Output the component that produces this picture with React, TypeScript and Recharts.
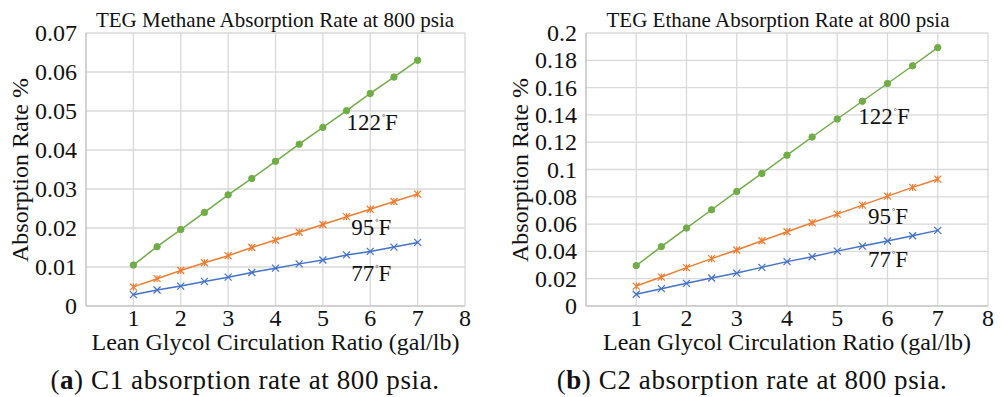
import React from 'react';
import { createPortal } from 'react-dom';
import {
  LineChart, Line, XAxis, YAxis, CartesianGrid, ReferenceDot,
} from 'recharts';

const RATIO = [1, 1.5, 2, 2.5, 3, 3.5, 4, 4.5, 5, 5.5, 6, 6.5, 7];

// C1 (methane)
const C1_122 = [0.0105, 0.0152, 0.0196, 0.0240, 0.0285, 0.0327, 0.0371, 0.0415, 0.0458, 0.0501, 0.0545, 0.0587, 0.0630];
const C1_95 = [0.0049, 0.0070, 0.0091, 0.0111, 0.0129, 0.0150, 0.0169, 0.0189, 0.0209, 0.0229, 0.0248, 0.0268, 0.0287];
const C1_77 = [0.0029, 0.0041, 0.0051, 0.0063, 0.0074, 0.0086, 0.0097, 0.0108, 0.0118, 0.0131, 0.0140, 0.0151, 0.0163];

// C2 (ethane)
const C2_122 = [0.0296, 0.0435, 0.0571, 0.0705, 0.0839, 0.0971, 0.1105, 0.1238, 0.1370, 0.1500, 0.1630, 0.1760, 0.1893];
const C2_95 = [0.0146, 0.0212, 0.0281, 0.0347, 0.0410, 0.0478, 0.0544, 0.0610, 0.0673, 0.0739, 0.0805, 0.0869, 0.0929];
const C2_77 = [0.0086, 0.0127, 0.0166, 0.0205, 0.0241, 0.0283, 0.0325, 0.0361, 0.0402, 0.0439, 0.0476, 0.0515, 0.0554];

const X_GRID = [0, 1, 2, 3, 4, 5, 6, 7, 8];
const X_TICKS = [1, 2, 3, 4, 5, 6, 7, 8];
const C1_TICKS = [0, 0.01, 0.02, 0.03, 0.04, 0.05, 0.06, 0.07];
const C2_TICKS = [0, 0.02, 0.04, 0.06, 0.08, 0.1, 0.12, 0.14, 0.16, 0.18, 0.2];

const GREEN = '#70AD47';
const ORANGE = '#ED7D31';
const BLUE = '#4472C4';
const FONT = '"Liberation Serif", "Times New Roman", serif';
const INK = '#111';

const buildRows = (a: number[], b: number[], c: number[]) =>
  RATIO.map((x, i) => ({ x, t122: a[i], t95: b[i], t77: c[i] }));

const c1Rows = buildRows(C1_122, C1_95, C1_77);
const c2Rows = buildRows(C2_122, C2_95, C2_77);

const fmt = (v: number) => String(Number(v.toFixed(3)));

// chart text goes out as plain fixed-width html boxes (same setup as the captions)
// at the coordinates recharts hands us; ox = the panel's left offset on the page
const HtmlText = ({ x, y, size, w = 80, anchor = 'middle', rotate = 0, children }: any) => {
  const h = Math.round(size * 1.25);
  const left = anchor === 'end' ? x - w : x - w / 2;
  return createPortal(
    <div style={{
      position: 'absolute', left, top: y - h / 2, width: w, height: h, zIndex: 5,
      textAlign: anchor === 'end' ? 'right' : 'center',
      transform: rotate ? `rotate(${rotate}deg)` : undefined,
      fontFamily: FONT, fontSize: size, color: INK, lineHeight: `${h}px`, whiteSpace: 'nowrap',
    }}>
      {children}
    </div>,
    document.body,
  );
};

const RoundDot = (props: any) => {
  const { cx, cy } = props;
  if (cx == null || cy == null) return null;
  return <circle cx={cx} cy={cy} r={3.2} fill={GREEN} stroke={GREEN} />;
};

const StarDot = (props: any) => {
  const { cx, cy } = props;
  if (cx == null || cy == null) return null;
  const s = 3.5;
  return (
    <g stroke={ORANGE} strokeWidth={1.2}>
      <line x1={cx - s} y1={cy - s} x2={cx + s} y2={cy + s} />
      <line x1={cx - s} y1={cy + s} x2={cx + s} y2={cy - s} />
      <line x1={cx} y1={cy - s} x2={cx} y2={cy + s} />
    </g>
  );
};

const CrossDot = (props: any) => {
  const { cx, cy } = props;
  if (cx == null || cy == null) return null;
  const s = 3.5;
  return (
    <g stroke={BLUE} strokeWidth={1.2}>
      <line x1={cx - s} y1={cy - s} x2={cx + s} y2={cy + s} />
      <line x1={cx - s} y1={cy + s} x2={cx + s} y2={cy - s} />
    </g>
  );
};

const XTick = ({ x, y, payload, ox }: any) => (
  <g><HtmlText x={ox + x} y={y - 6 + 12} size={24} w={40}>{payload.value}</HtmlText></g>
);

const YTick = ({ x, y, payload, ox }: any) => (
  <g><HtmlText x={ox + x + 1} y={y} size={24} w={70} anchor="end">{fmt(payload.value)}</HtmlText></g>
);

const TempLabel = ({ viewBox, temp, ox }: any) => {
  const cx = viewBox.x + viewBox.width / 2;
  const cy = viewBox.y + viewBox.height / 2;
  return (
    <g>
      <HtmlText x={ox + cx} y={cy} size={23} w={90}>
        {temp}<span style={{ fontSize: 8, verticalAlign: 'top', lineHeight: '20px', marginLeft: 1 }}>°</span>F
      </HtmlText>
    </g>
  );
};

const YTitle = ({ viewBox, ox }: any) => (
  <g>
    <HtmlText x={ox + 20} y={viewBox.y + viewBox.height / 2} size={24} w={260} rotate={-90}>
      Absorption Rate %
    </HtmlText>
  </g>
);

const XTitle = ({ viewBox, ox }: any) => (
  <g>
    <HtmlText x={ox + viewBox.x + viewBox.width / 2} y={viewBox.y + 36} size={24} w={440}>
      Lean Glycol Circulation Ratio (gal/lb)
    </HtmlText>
  </g>
);

interface PanelProps {
  ox: number;
  rows: any[];
  yTicks: number[];
  yMax: number;
  width: number;
  rightMargin: number;
  title: string;
  titleX: number;
  labels: { temp: string; x: number; y: number }[];
}

const Panel = ({ ox, rows, yTicks, yMax, width, rightMargin, title, titleX, labels }: PanelProps) => (
  <div style={{ position: 'absolute', left: ox, top: 0, width, height: 397 }}>
    <div style={{
      position: 'absolute', top: 9, left: titleX - 250, width: 500, textAlign: 'center',
      fontFamily: FONT, fontSize: 21, color: INK, lineHeight: '22px', whiteSpace: 'nowrap',
    }}>
      {title}
    </div>
    <LineChart width={width} height={397} data={rows}
      margin={{ top: 33, right: rightMargin, left: 0, bottom: 0 }}>
      <CartesianGrid stroke="#D9D9D9" strokeWidth={1.3} horizontalValues={yTicks} verticalValues={X_GRID} />
      <XAxis type="number" dataKey="x" domain={[0, 8]} ticks={X_TICKS} interval={0}
        height={91} tickLine={false} stroke="#BFBFBF" tickMargin={0}
        tick={<XTick ox={ox} />} label={<XTitle ox={ox} />} />
      <YAxis type="number" domain={[0, yMax]} ticks={yTicks} interval={0} width={86}
        tickLine={false} stroke="#BFBFBF" tickMargin={4}
        tick={<YTick ox={ox} />} label={<YTitle ox={ox} />} />
      <Line dataKey="t122" stroke={GREEN} strokeWidth={1.5} dot={<RoundDot />} isAnimationActive={false} />
      <Line dataKey="t95" stroke={ORANGE} strokeWidth={1.5} dot={<StarDot />} isAnimationActive={false} />
      <Line dataKey="t77" stroke={BLUE} strokeWidth={1.5} dot={<CrossDot />} isAnimationActive={false} />
      {labels.map((l) => (
        <ReferenceDot key={l.temp} x={l.x} y={l.y} r={0} stroke="none" fill="none"
          label={<TempLabel temp={l.temp} ox={ox} />} />
      ))}
    </LineChart>
  </div>
);

const Caption = ({ letter, text, center }: any) => (
  <div style={{
    position: 'absolute', top: 365, left: center - 260, width: 520, textAlign: 'center',
    fontFamily: FONT, fontSize: 27, letterSpacing: 0.6, color: INK, lineHeight: '30px', whiteSpace: 'nowrap',
  }}>
    (<b>{letter}</b>) {text}
  </div>
);

export default function App() {
  return (
    <div style={{ position: 'absolute', left: 0, top: 0, width: 1003, height: 397, background: '#fff', overflow: 'hidden' }}>
      <Panel ox={0} rows={c1Rows} yTicks={C1_TICKS} yMax={0.07} width={500} rightMargin={35}
        title="TEG Methane Absorption Rate at 800 psia" titleX={275}
        labels={[
          { temp: '122', x: 6.04, y: 0.0471 },
          { temp: '95', x: 6.02, y: 0.0202 },
          { temp: '77', x: 6.02, y: 0.0084 },
        ]} />
      <Panel ox={500} rows={c2Rows} yTicks={C2_TICKS} yMax={0.2} width={503} rightMargin={15}
        title="TEG Ethane Absorption Rate at 800 psia" titleX={278}
        labels={[
          { temp: '122', x: 5.93, y: 0.1388 },
          { temp: '95', x: 6.01, y: 0.0659 },
          { temp: '77', x: 6.01, y: 0.0342 },
        ]} />
      <Caption letter="a" text="C1 absorption rate at 800 psia." center={245} />
      <Caption letter="b" text="C2 absorption rate at 800 psia." center={752} />
    </div>
  );
}
